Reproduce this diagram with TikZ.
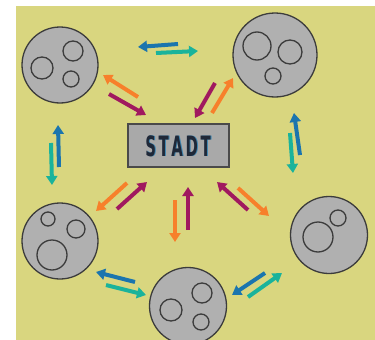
\documentclass[tikz,border=0pt]{standalone}
\usepackage{fontspec}
\usepackage{graphicx}
\usetikzlibrary{arrows.meta}
\newfontfamily\stadtfont{DejaVu Sans}

\definecolor{bgyellow}{HTML}{D9D67F}
\definecolor{discgray}{HTML}{B0B0B0}
\definecolor{rimgray}{HTML}{3C3C3C}
\definecolor{boxgray}{HTML}{A9A9A9}
\definecolor{boxrim}{HTML}{4A4A4A}
\definecolor{inkdark}{HTML}{1F2838}
\definecolor{inkshade}{HTML}{3F86B0}
\definecolor{flowblue}{HTML}{1B75AE}
\definecolor{flowteal}{HTML}{1AB39B}
\definecolor{floworange}{HTML}{F7802B}
\definecolor{flowpurple}{HTML}{A0195F}

\newcommand{\stadtword}[1]{\scalebox{0.53}[1]{\stadtfont\bfseries\fontsize{28}{28}\selectfont
  S\kern5pt T\kern5pt A\kern5pt D\kern5pt T}}

\begin{document}
\begin{tikzpicture}[x=1pt,y=-1pt,
  disc/.style={circle, draw=rimgray, fill=discgray, line width=1.3pt,
    minimum size=#1, inner sep=0pt},
  hole/.style={circle, draw=rimgray, line width=1.3pt,
    minimum size=#1, inner sep=0pt},
  flow/.style={line width=4pt, -{Triangle[width=11pt,length=9pt]}},
  blueflow/.style={flow, flowblue},
  tealflow/.style={flow, flowteal},
  orangeflow/.style={flow, floworange},
  purpleflow/.style={flow, flowpurple}]

\useasboundingbox (0,0) rectangle (375,340);
\fill[bgyellow] (16,6) rectangle (375,340);

\begin{scope}
\clip (16,6) rectangle (375,340);

% districts around the city
\node[disc=76pt] (nw) at (60,65) {};
\node[hole=22pt] (nwa) at (42,68) {};
\node[hole=20pt] (nwb) at (73,51) {};
\node[hole=16pt] (nwc) at (71,79) {};

\node[disc=84pt] (ne) at (275,55) {};
\node[hole=28pt] (nea) at (257,46) {};
\node[hole=24pt] (neb) at (290,52) {};
\node[hole=16pt] (nec) at (273,76) {};

\node[disc=76pt] (w) at (60,241) {};
\node[hole=14pt] (wa) at (48,219) {};
\node[hole=18pt] (wb) at (76,229) {};
\node[hole=30pt] (wc) at (52,255) {};

\node[disc=77pt] (e) at (329,235) {};
\node[hole=16pt] (ea) at (338,218) {};
\node[hole=30pt] (eb) at (318,237) {};

\node[disc=77pt] (s) at (188,306) {};
\node[hole=22pt] (sa) at (171,310) {};
\node[hole=20pt] (sb) at (202,293) {};
\node[hole=16pt] (sc) at (201,322) {};
\end{scope}

% the city
\node[draw=boxrim, fill=boxgray, line width=2pt, minimum width=101pt,
  minimum height=43pt, inner sep=0pt] (stadt) at (178,145) {};
\node[text=inkshade, inner sep=0pt] (stadtshade) at (179,146.5) {\stadtword{}};
\node[text=inkdark, inner sep=0pt] (stadtlabel) at (178,146) {\stadtword{}};

% exchanges between neighbouring districts
\draw[blueflow] (178,44) -- (138,47);
\draw[tealflow] (156,53) -- (198,51);

\draw[blueflow] (59,167) -- (58,125);
\draw[tealflow] (51,143) -- (52,185);

\draw[blueflow] (300,155) -- (294,113);
\draw[tealflow] (290,133) -- (293,173);

\draw[blueflow] (135,282) -- (96,272);
\draw[tealflow] (106,285) -- (146,295);

\draw[blueflow] (265,273) -- (232,295);
\draw[tealflow] (248,297) -- (282,273);

% exchanges between districts and the city
\draw[orangeflow] (138,97) -- (103,75);
\draw[purpleflow] (109,94) -- (146,115);

\draw[purpleflow] (215,83) -- (195,118);
\draw[orangeflow] (212,113) -- (233,78);

\draw[orangeflow] (127,183) -- (96,211);
\draw[purpleflow] (117,209) -- (147,182);

\draw[orangeflow] (175,200) -- (175,242);
\draw[purpleflow] (188,230) -- (188,187);

\draw[purpleflow] (248,210) -- (217,182);
\draw[orangeflow] (238,188) -- (269,216);
\end{tikzpicture}
\end{document}
